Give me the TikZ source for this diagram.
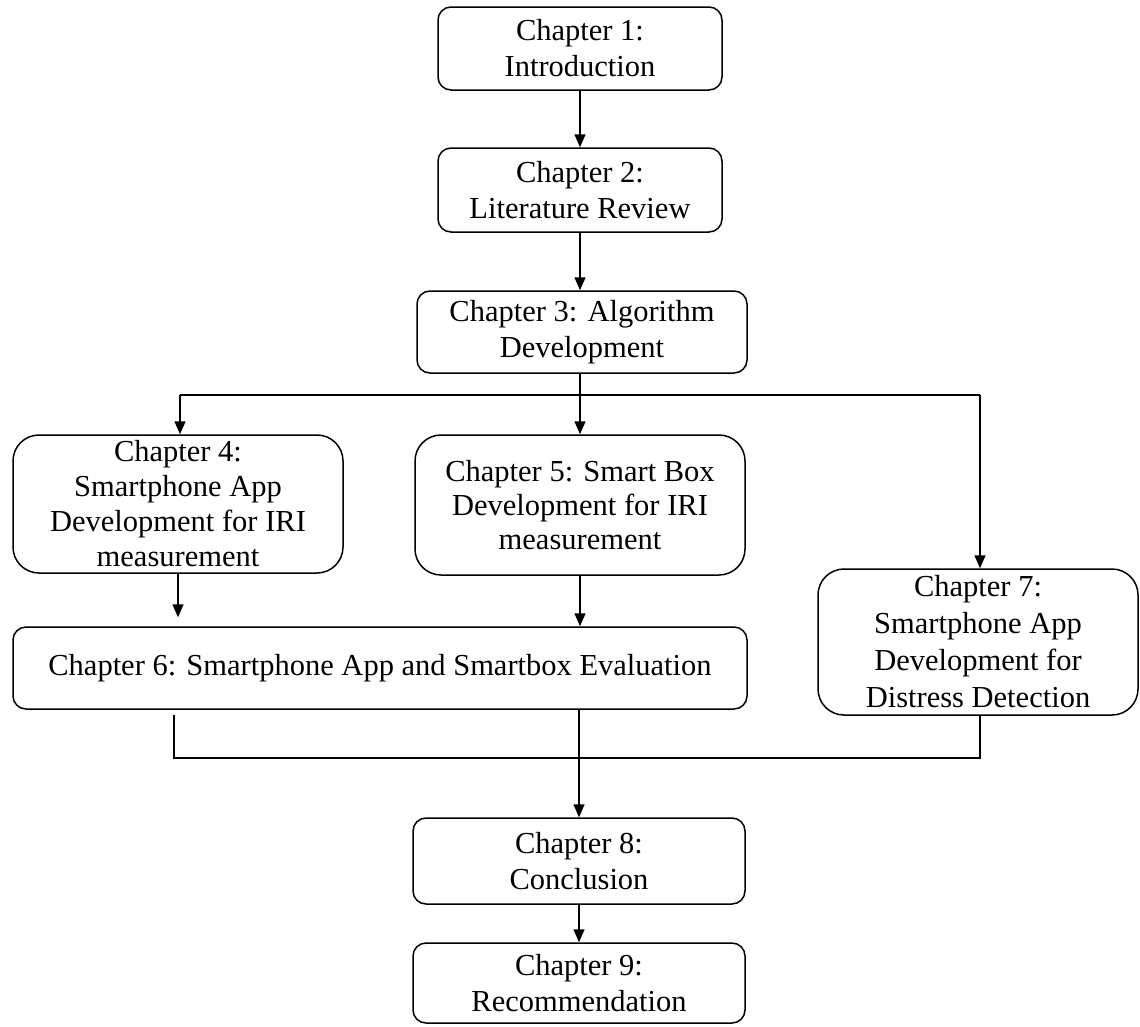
\documentclass[tikz,border=0pt]{standalone}
\usepackage{fontspec}
\setmainfont{Liberation Serif}
\usetikzlibrary{arrows.meta}
\tikzset{
  box/.style={draw, line width=1.5pt, rounded corners=13pt, align=center, inner sep=0pt,
    font=\fontsize{30.5}{36}\selectfont},
  bigbox/.style={box, rounded corners=26pt},
  conn/.style={line width=1.5pt},
  arr/.style={conn, -{Triangle[width=11pt,length=13pt]}}
}
\begin{document}
\begin{tikzpicture}[x=1pt,y=-1pt]
\useasboundingbox (0,0) rectangle (1140,1026);
\node[box, minimum width=284pt, minimum height=83pt] (b1) at (580,48.5) {Chapter 1:\\Introduction};
\node[box, minimum width=284pt, minimum height=84pt] (b2) at (580,190) {Chapter 2:\\Literature Review};
\node[box, minimum width=330pt, minimum height=82pt] (b3) at (582,332) {Chapter 3: Algorithm\\Development};
\node[bigbox, minimum width=330pt, minimum height=138pt, font=\fontsize{30.5}{35}\selectfont] (b4) at (178,504) {Chapter 4:\\Smartphone App\\Development for IRI\\measurement};
\node[bigbox, minimum width=330pt, minimum height=140pt, font=\fontsize{30.5}{34}\selectfont] (b5) at (580,505) {Chapter 5: Smart Box\\Development for IRI\\measurement};
\node[box, minimum width=734pt, minimum height=82pt] (b6) at (380,668) {Chapter 6: Smartphone App and Smartbox Evaluation};
\node[bigbox, minimum width=320pt, minimum height=146pt, font=\fontsize{30.5}{37}\selectfont] (b7) at (978,642) {Chapter 7:\\Smartphone App\\Development for\\Distress Detection};
\node[box, minimum width=332pt, minimum height=86pt] (b8) at (579,861) {Chapter 8:\\Conclusion};
\node[box, minimum width=332pt, minimum height=80pt] (b9) at (579,983) {Chapter 9:\\Recommendation};

\coordinate (ja) at (180,395);
\coordinate (jb) at (980,395);
\coordinate (jl) at (174,758);
\coordinate (jr) at (980,758);

\draw[arr] (b1.south) -- (b2.north);
\draw[arr] (b2.south) -- (b2.south |- b3.north);
\draw[arr] (b3.south -| b5.north) -- (b5.north);
\draw[conn] (ja) -- (jb);
\draw[arr] (ja) -- (ja |- b4.north);
\draw[arr] (jb) -- (jb |- b7.north);
\draw[arr, shorten >=9pt] (b4.south) -- (b4.south |- b6.north);
\draw[arr] (b5.south) -- (b5.south |- b6.north);
\draw[conn] ([yshift=-5pt]b6.south -| jl) -- (jl) -- (jr) -- (b7.south -| jr);
\draw[arr] (b6.south -| b8.north) -- (b8.north);
\draw[arr] (b8.south) -- (b9.north);
\end{tikzpicture}
\end{document}
